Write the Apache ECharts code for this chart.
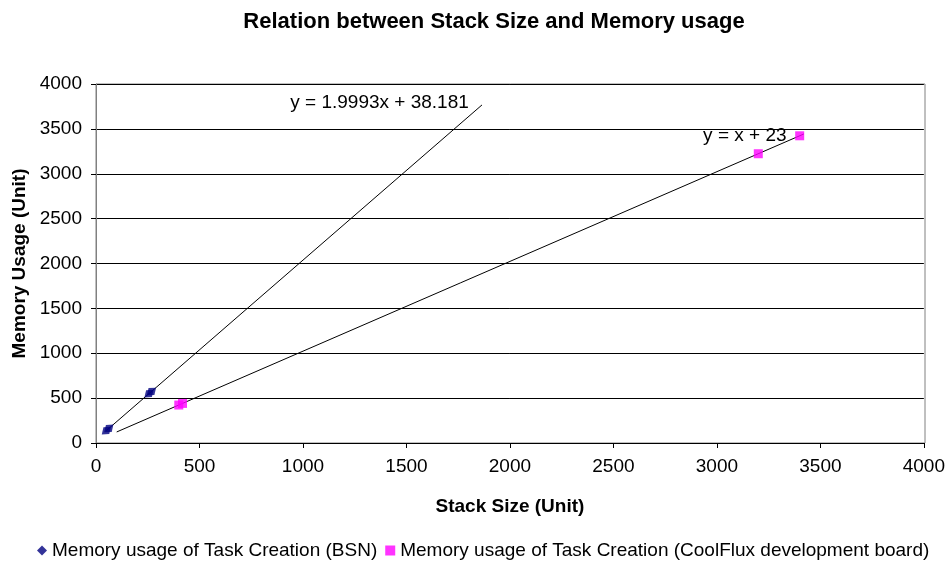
<!DOCTYPE html>
<html>
<head>
<meta charset="utf-8">
<script src="https://cdn.jsdelivr.net/npm/echarts@6/dist/echarts.min.js"></script>
<style>
  html, body { margin: 0; padding: 0; background: #fff; }
  #chart { width: 948px; height: 565px; }
</style>
</head>
<body>
<div id="chart"></div>
<script>
// BSN measurements (stack size, memory usage)
const bsnPoints = [[50, 138], [62, 162], [256, 550], [268, 574]];
// CoolFlux development board measurements
const coolFluxPoints = [[400, 423], [418, 441], [3200, 3223], [3400, 3423]];
// trendline coefficients and ranges
const bsnTrend = { slope: 1.9993, intercept: 38.181, from: 50, to: 1865 };
const coolTrend = { slope: 1, intercept: 23, from: 100, to: 3420 };
const bsnTrendLabel = 'y = 1.9993x + 38.181';
const coolTrendLabel = 'y = x + 23';
const bsnLabelAt = [1370, 3790];
const coolLabelAt = [3135, 3420];

const trendLine = t => [
  [t.from, t.slope * t.from + t.intercept],
  [t.to, t.slope * t.to + t.intercept]
];

const font = 'Liberation Sans, Arial, sans-serif';
const chart = echarts.init(document.getElementById('chart'));
const option = {
  animation: false,
  textStyle: { fontFamily: font },
  title: {
    text: 'Relation between Stack Size and Memory usage',
    left: 489,
    textAlign: 'center',
    top: 6,
    textStyle: { fontSize: 22, fontWeight: 'bold', color: '#000', fontFamily: font }
  },
  grid: { left: 96, right: 23, top: 84, bottom: 122 },
  legend: {
    bottom: 0,
    left: 32,
    itemGap: 8,
    itemWidth: 10,
    itemHeight: 10,
    textStyle: { fontSize: 19, color: '#000', fontFamily: font },
    data: [
      { name: 'Memory usage of Task Creation (BSN)', icon: 'diamond' },
      { name: 'Memory usage of Task Creation (CoolFlux development board)', icon: 'rect' }
    ]
  },
  xAxis: {
    type: 'value',
    min: 0, max: 4000, interval: 500,
    name: 'Stack Size (Unit)',
    nameLocation: 'middle',
    nameGap: 54,
    nameTextStyle: { fontSize: 19, fontWeight: 'bold', color: '#000' },
    axisLine: { show: true, lineStyle: { color: '#000' } },
    axisTick: { show: true, length: 5, lineStyle: { color: '#000' } },
    axisLabel: { fontSize: 19, color: '#000', margin: 14, formatter: v => String(v) },
    splitLine: { show: false }
  },
  yAxis: {
    type: 'value',
    min: 0, max: 4000, interval: 500,
    name: 'Memory Usage (Unit)',
    nameLocation: 'middle',
    nameGap: 66,
    nameTextStyle: { fontSize: 19, fontWeight: 'bold', color: '#000' },
    axisLine: { show: true, lineStyle: { color: '#808080' } },
    axisTick: { show: true, length: 5, lineStyle: { color: '#000' } },
    axisLabel: { fontSize: 19, color: '#000', margin: 14, formatter: v => String(v) },
    splitLine: { show: true, lineStyle: { color: '#000', width: 1 } }
  },
  series: [
    {
      name: 'BSN trend',
      type: 'line',
      data: trendLine(bsnTrend),
      showSymbol: false,
      lineStyle: { color: '#000', width: 1 },
      silent: true,
      z: 1,
      markPoint: {
        symbol: 'circle', symbolSize: 0,
        label: { show: true, formatter: bsnTrendLabel, fontSize: 19, color: '#000', position: 'inside' },
        data: [{ coord: bsnLabelAt }]
      }
    },
    {
      name: 'CoolFlux trend',
      type: 'line',
      data: trendLine(coolTrend),
      showSymbol: false,
      lineStyle: { color: '#000', width: 1 },
      silent: true,
      z: 1,
      markPoint: {
        symbol: 'circle', symbolSize: 0,
        label: { show: true, formatter: coolTrendLabel, fontSize: 19, color: '#000', position: 'inside' },
        data: [{ coord: coolLabelAt }]
      }
    },
    {
      name: 'Memory usage of Task Creation (BSN)',
      type: 'scatter',
      symbol: 'diamond',
      symbolSize: [9, 12],
      symbolRotate: -50,
      itemStyle: { color: '#000080' },
      data: bsnPoints,
      z: 3
    },
    {
      name: 'Memory usage of Task Creation (CoolFlux development board)',
      type: 'scatter',
      symbol: 'rect',
      symbolSize: 9,
      itemStyle: { color: '#ff00ff' },
      data: coolFluxPoints,
      z: 3
    }
  ],
  graphic: [
    {
      type: 'rect',
      shape: { x: 96, y: 84, width: 829, height: 359 },
      style: { fill: 'none', stroke: '#808080', lineWidth: 1 },
      z: 0,
      silent: true
    }
  ]
};
chart.setOption(option);
</script>
</body>
</html>
